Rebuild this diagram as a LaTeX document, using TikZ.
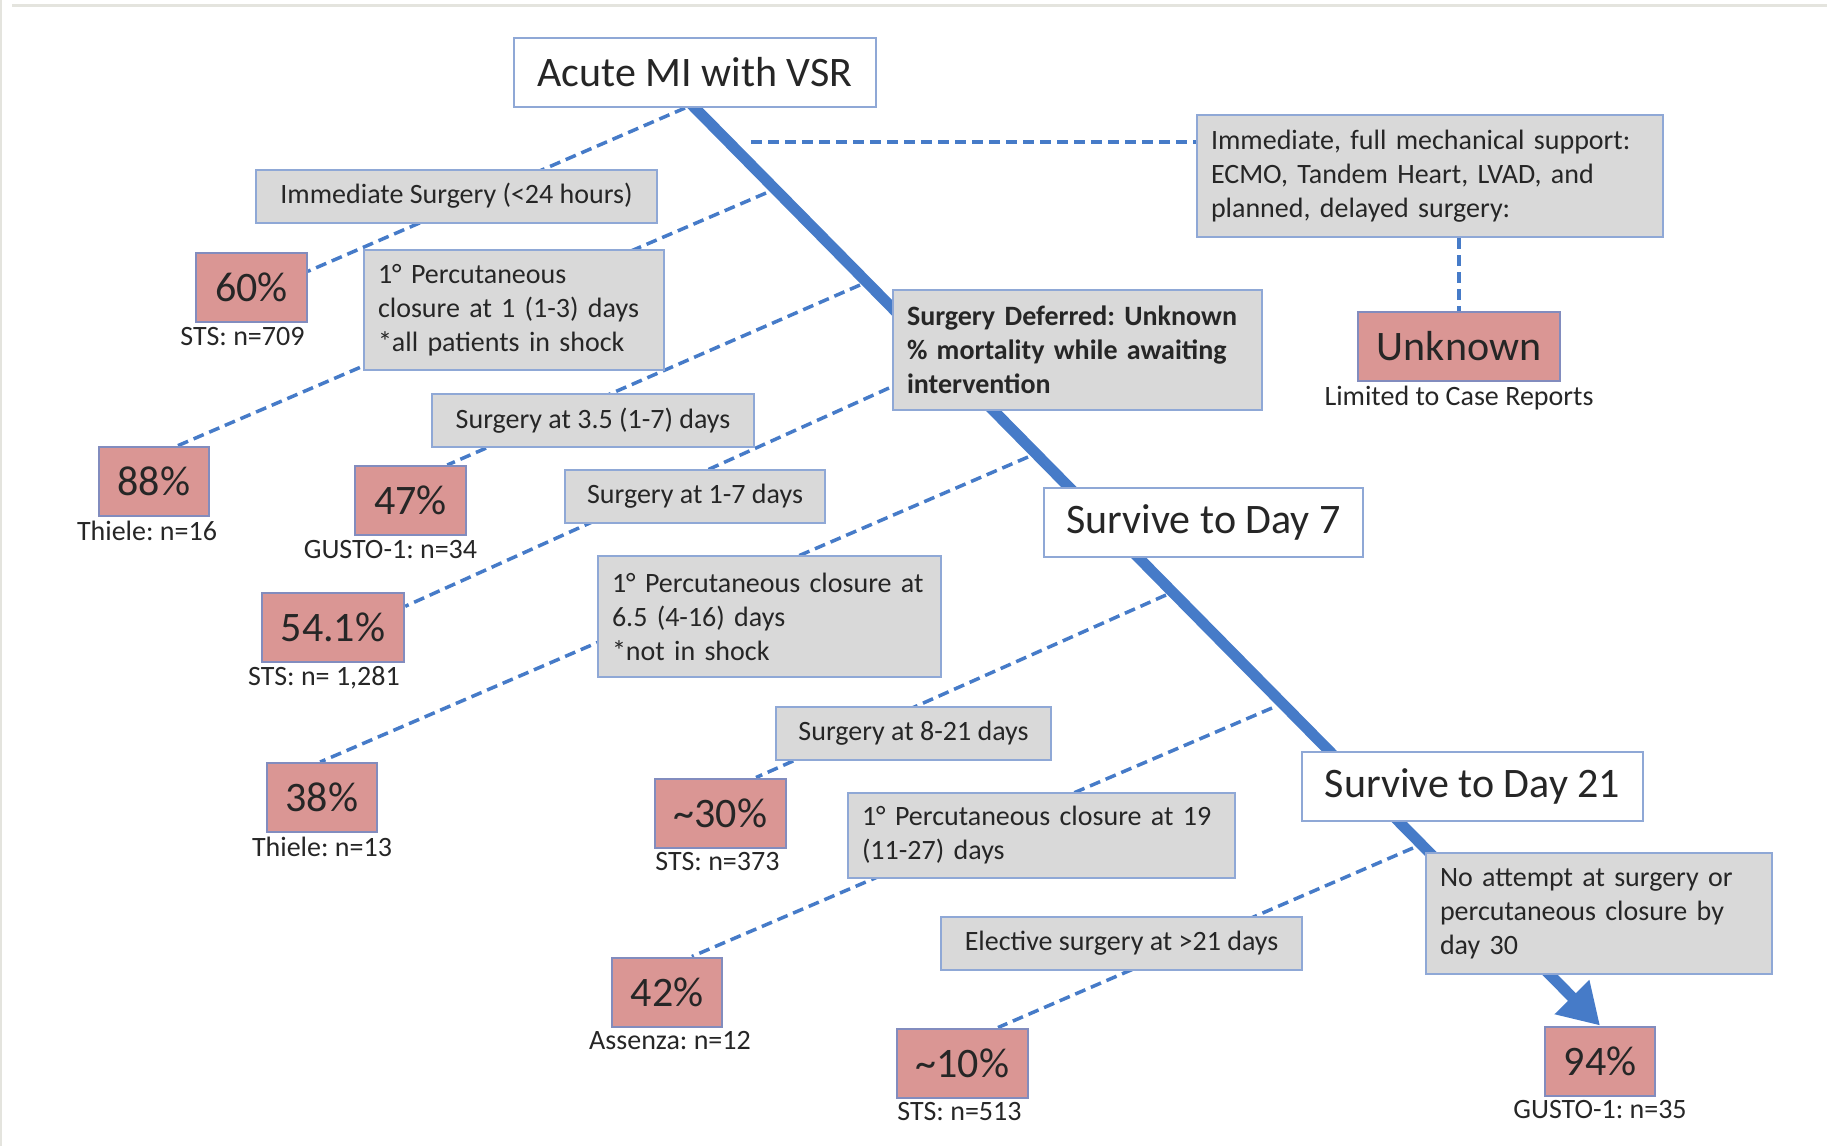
\documentclass[tikz,border=0pt]{standalone}
\usepackage{fontspec}
\setmainfont{Carlito}
\usepackage{xcolor}
\usepackage{tikz}
\usetikzlibrary{
  arrows.meta, positioning, calc, backgrounds
}
\frenchspacing
\definecolor{vsrblue}{RGB}{70,123,200}
\definecolor{boxedge}{RGB}{143,168,214}
\definecolor{rateedge}{RGB}{130,140,190}
\definecolor{ratefill}{RGB}{218,150,148}
\definecolor{optfill}{RGB}{217,217,217}
\definecolor{inktext}{RGB}{38,38,38}
\definecolor{framegray}{RGB}{228,228,222}
\tikzset{
  stagebox/.style={
    draw=boxedge, line width=2pt, fill=white, text=inktext,
    font=\fontsize{42}{50}\selectfont, inner xsep=19pt, minimum height=69pt
  },
  optbox/.style={
    draw=boxedge, line width=2pt, fill=optfill, text=inktext,
    font=\fontsize{28}{34}\selectfont, inner xsep=19pt, minimum height=53pt
  },
  optboxleft/.style={
    optbox, align=left, inner xsep=14pt, inner ysep=0pt
  },
  ratebox/.style={
    draw=rateedge, line width=2pt, fill=ratefill, text=inktext,
    font=\fontsize{42}{50}\selectfont, inner xsep=19pt, minimum height=69pt
  },
  ratelabel/.style={
    text=inktext, font=\fontsize{28}{34}\selectfont, inner sep=2pt
  },
  mainpath/.style={
    vsrblue, line width=11pt, -{Triangle[length=40pt, width=46pt]}
  },
  branchline/.style={
    vsrblue, line width=3.5pt, dash pattern=on 11pt off 6pt
  },
}

\begin{document}
\begin{tikzpicture}[x=1pt, y=-1pt]
  \useasboundingbox (0,0) rectangle (1827,1146);
  \draw[framegray, line width=3pt] (12,5) -- (1827,5);
  \draw[framegray, line width=2pt] (1,0) -- (1,1146);

  % ── Stages along the main path ──
  \node[stagebox, minimum width=362pt] (acute) at (695,72.5) {Acute MI with VSR};
  \node[stagebox, minimum width=319pt] (day7) at (1203.5,522) {Survive to Day 7};
  \node[stagebox, minimum width=341pt] (day21) at (1472.5,786.5) {Survive to Day 21};

  % ── Treatment options ──
  \node[optbox, minimum width=401pt] (immsurg) at (456.5,196)
    {Immediate Surgery (<24 hours)};
  \node[optboxleft, text width=272pt, minimum height=120pt] (perc1) at (514,310)
    {1° Percutaneous\\closure at 1 (1-3) days\\{*}all patients in shock};
  \node[optboxleft, text width=438pt, minimum height=122pt] (mech) at (1430,176)
    {Immediate, full mechanical support:\\ECMO, Tandem Heart, LVAD, and\\planned, delayed surgery:};
  \node[optboxleft, text width=341pt, minimum height=120pt,
    font=\fontsize{28}{34}\selectfont\bfseries] (deferred) at (1077.5,350)
    {Surgery Deferred: Unknown\\\% mortality while awaiting\\intervention};
  \node[optbox, minimum width=322pt] (surg35) at (593,420.5) {Surgery at 3.5 (1-7) days};
  \node[optbox, minimum width=260pt] (surg17) at (695,496) {Surgery at 1-7 days};
  \node[optboxleft, text width=315pt, minimum height=121pt] (perc65) at (769.5,616.5)
    {1° Percutaneous closure at\\6.5 (4-16) days\\{*}not in shock};
  \node[optbox, minimum width=275pt] (surg821) at (913.5,733) {Surgery at 8-21 days};
  \node[optboxleft, text width=359pt, minimum height=85pt] (perc19) at (1041.5,835.5)
    {1° Percutaneous closure at 19\\(11-27) days};
  \node[optbox, minimum width=361pt] (elective) at (1121.5,943)
    {Elective surgery at >21 days};
  \node[optboxleft, text width=318pt, minimum height=121pt] (noattempt) at (1599,913.5)
    {No attempt at surgery or\\percutaneous closure by\\day 30};

  % ── Mortality ──
  \node[ratebox] (p60) at (251.5,287.5) {60\%};
  \node[ratebox] (p88) at (154,481.5) {88\%};
  \node[ratebox] (p47) at (410.5,500.5) {47\%};
  \node[ratebox] (p541) at (333,627) {54.1\%};
  \node[ratebox] (p38) at (322,797.5) {38\%};
  \node[ratebox] (p30) at (720.5,813) {\textasciitilde30\%};
  \node[ratebox] (p42) at (667,992) {42\%};
  \node[ratebox] (p10) at (962.5,1063) {\textasciitilde10\%};
  \node[ratebox] (p94) at (1600,1061) {94\%};
  \node[ratebox] (unknown) at (1459,346.5) {Unknown};

  \node[ratelabel, below=2pt of p60, xshift=-9pt] (n60) {STS: n=709};
  \node[ratelabel, below=2pt of p88, xshift=-7pt] (n88) {Thiele: n=16};
  \node[ratelabel, below=2pt of p47, xshift=-20pt] (n47) {GUSTO-1: n=34};
  \node[ratelabel, below=2pt of p541, xshift=-9pt] (n541) {STS: n= 1,281};
  \node[ratelabel, below=2pt of p38] (n38) {Thiele: n=13};
  \node[ratelabel, below=2pt of p30, xshift=-3pt] (n30) {STS: n=373};
  \node[ratelabel, below=2pt of p42, xshift=3pt] (n42) {Assenza: n=12};
  \node[ratelabel, below=2pt of p10, xshift=-3pt] (n10) {STS: n=513};
  \node[ratelabel, below=2pt of p94] (n94) {GUSTO-1: n=35};
  \node[ratelabel, below=2pt of unknown] (nunknown) {Limited to Case Reports};

  % ── Branch starts ──
  \coordinate (br60) at (685,108);
  \coordinate (br88) at (766,193);
  \coordinate (br47) at (860,285);
  \coordinate (br541) at (889,388);
  \coordinate (br38) at (1028,457);
  \coordinate (br30) at (1166,595);
  \coordinate (br42) at (1272,708);
  \coordinate (br10) at (1413,848);
  \coordinate (brmech) at (751,142);

  \begin{scope}[on background layer]
    \draw[mainpath, shorten <=-8pt] (acute.south) -- (p94.north);
    \draw[branchline] (br60) -- (p60.16);
    \draw[branchline] (br88) -- (p88.57);
    \draw[branchline] (br47) -- (p47.44);
    \draw[branchline] (br541) -- (p541.16);
    \draw[branchline] (br38) -- (p38.93);
    \draw[branchline] (br30) -- (p30.45);
    \draw[branchline] (br42) -- (p42.55);
    \draw[branchline] (br10) -- (p10.45);
    \draw[branchline] (brmech) -- (brmech -| mech.west);
    \draw[branchline] (unknown.north |- mech.south) -- (unknown.north);
  \end{scope}
\end{tikzpicture}
\end{document}
